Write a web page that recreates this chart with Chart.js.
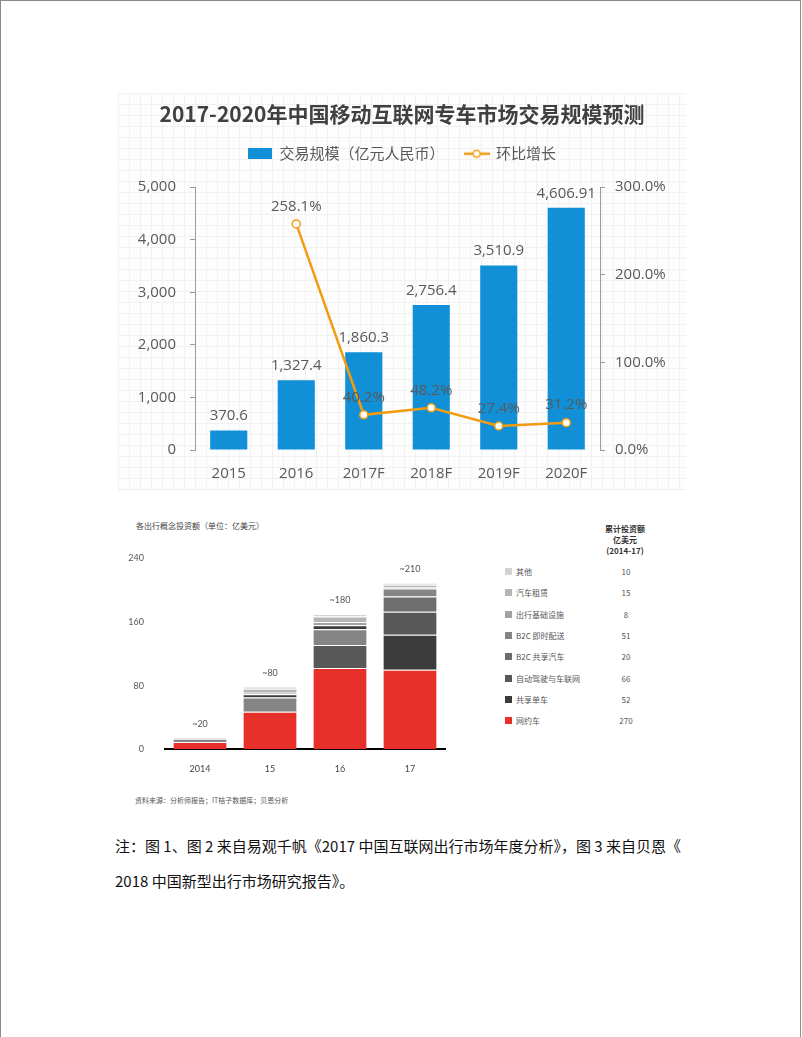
<!DOCTYPE html>
<html>
<head>
<meta charset="utf-8">
<script src="https://cdn.jsdelivr.net/npm/chart.js@4.4.0/dist/chart.umd.min.js"></script>
<style>
  html, body { margin: 0; padding: 0; background: #fff; }
  body { width: 802px; height: 1037px; position: relative; overflow: hidden; font-family: 'Noto Sans CJK SC', sans-serif; }
  .frame { position: absolute; left: 0; top: 0; width: 799px; height: 1036px; border: 1px solid #8a8a8a; border-bottom: none; }
  .panel1 { position: absolute; left: 118px; top: 93px; width: 568px; height: 398px;
    background-color: #fdfdfd;
    background-image: linear-gradient(#f1f1f1 1px, transparent 1px), linear-gradient(90deg, #f1f1f1 1px, transparent 1px);
    background-size: 11px 11px; }
  #c1 { position: absolute; left: 0; top: 0; }
  #c2 { position: absolute; left: 125px; top: 540px; }
  .t2 { position: absolute; left: 136px; top: 520px; font-size: 8px; color: #444; }
  .src { position: absolute; left: 135px; top: 795px; font-size: 7px; color: #555; }
  .leg { position: absolute; left: 500px; top: 521px; font-size: 8px; color: #555; }
  .leg .hd { position: absolute; left: 95px; top: 2px; width: 60px; text-align: center; font-weight: bold; color: #333; line-height: 11px; }
  .leg .row { position: absolute; left: 0; height: 12px; line-height: 12px; white-space: nowrap; }
  .leg .sq { position: absolute; left: 5px; top: 2px; width: 7px; height: 7px; }
  .leg .nm { position: absolute; left: 16px; top: 0; }
  .leg .vl { position: absolute; left: 106px; top: 0; width: 40px; text-align: center; }
  .note { position: absolute; left: 115px; top: 828px; font-size: 15px; color: #111; line-height: 35px; }
</style>
</head>
<body>
<div class="frame"></div>
<div class="panel1"><canvas id="c1" width="568" height="398"></canvas></div>

<div class="t2">各出行概念投资额（单位：亿美元）</div>
<canvas id="c2" width="330" height="240"></canvas>
<div class="src">资料来源：分析师报告；IT桔子数据库；贝恩分析</div>
<div class="leg" id="leg"></div>

<div class="note">注：图 1、图 2 来自易观千帆《2017 中国互联网出行市场年度分析》，图 3 来自贝恩《<br>2018 中国新型出行市场研究报告》。</div>

<script>
// chart 1 data
const years = ['2015', '2016', '2017F', '2018F', '2019F', '2020F'];
const marketSize = [370.6, 1327.4, 1860.3, 2756.4, 3510.9, 4606.91];
const growth = [null, 258.1, 40.2, 48.2, 27.4, 31.2];

// chart 2 data
const years2 = ['2014', '15', '16', '17'];
const rideHailing = [9, 47, 102, 100];
const bikeLow = [0, 0, 0, 44];
const autonomous = [0, 0, 29, 29];
const b2cCarShare = [0, 0, 0, 19];
const b2cDelivery = [4, 18, 20, 10];
const bikeHigh = [0, 4, 5, 0];
const infra = [0, 2, 4, 2];
const rental = [0, 5, 7, 3];
const others = [2, 3, 3, 2];
const totalLabels = ['~20', '~80', '~180', '~210'];

// legend table
const legendNames = ['其他', '汽车租赁', '出行基础设施', 'B2C 即时配送', 'B2C 共享汽车', '自动驾驶与车联网', '共享单车', '网约车'];
const legendTotals = [10, 15, 8, 51, 20, 66, 52, 270];
const legendColors = ['#d3d3d3', '#b5b5b5', '#a2a2a2', '#858585', '#6e6e6e', '#585858', '#3c3c3c', '#e8302a'];

const BLUE = '#1190d8';
const ORANGE = '#f39c12';
const TXT = '#595959';
const numFont = "'Open Sans', 'Noto Sans CJK SC', sans-serif";

// legend markers
const boxImg = document.createElement('canvas');
boxImg.width = 24; boxImg.height = 11;
let g = boxImg.getContext('2d');
g.fillStyle = BLUE; g.fillRect(0, 0, 24, 11);

const lineImg = document.createElement('canvas');
lineImg.width = 26; lineImg.height = 10;
g = lineImg.getContext('2d');
g.strokeStyle = ORANGE; g.lineWidth = 2.5;
g.beginPath(); g.moveTo(0, 5); g.lineTo(26, 5); g.stroke();
g.fillStyle = '#fff'; g.lineWidth = 1.5;
g.beginPath(); g.arc(13, 5, 3.5, 0, Math.PI * 2); g.fill(); g.stroke();

const valueLabels = {
  id: 'valueLabels',
  afterDatasetsDraw(chart) {
    const ctx = chart.ctx;
    ctx.save();
    ctx.font = '15px ' + numFont;
    ctx.fillStyle = TXT;
    ctx.textAlign = 'center';
    ctx.textBaseline = 'bottom';
    chart.getDatasetMeta(0).data.forEach((bar, i) => {
      ctx.fillText(marketSize[i].toLocaleString('en-US'), bar.x, bar.y - 7);
    });
    chart.getDatasetMeta(1).data.forEach((pt, i) => {
      if (growth[i] == null) return;
      ctx.fillText(growth[i].toFixed(1) + '%', pt.x, pt.y - 10);
    });
    ctx.restore();
  }
};

// extra room under the legend
const legendGap = {
  id: 'legendGap',
  beforeInit(chart) {
    const fit = chart.legend.fit;
    chart.legend.fit = function () {
      fit.call(this);
      this.height += 16;
    };
  }
};

new Chart(document.getElementById('c1'), {
  data: {
    labels: years,
    datasets: [{
      type: 'bar',
      label: '交易规模（亿元人民币）',
      data: marketSize,
      backgroundColor: BLUE,
      yAxisID: 'y',
      barPercentage: 0.55,
      categoryPercentage: 1,
      order: 2
    }, {
      type: 'line',
      label: '环比增长',
      data: growth,
      borderColor: ORANGE,
      borderWidth: 2.5,
      pointBackgroundColor: '#fff',
      pointBorderColor: ORANGE,
      pointBorderWidth: 1.5,
      pointRadius: 4,
      yAxisID: 'y1',
      order: 1
    }]
  },
  options: {
    responsive: false,
    animation: false,
    layout: { padding: { left: 0, right: 0, top: 0, bottom: -7 } },
    plugins: {
      title: {
        display: true,
        text: '2017-2020年中国移动互联网专车市场交易规模预测',
        color: '#404040',
        font: { size: 21, weight: 'bold', family: "'Noto Sans CJK SC', sans-serif" },
        padding: { top: 8, bottom: 0 }
      },
      legend: {
        labels: {
          usePointStyle: true,
          pointStyleWidth: 24,
          color: TXT,
          padding: 20,
          font: { size: 15, family: "'Noto Sans CJK SC', sans-serif" },
          sort: (a, b) => a.datasetIndex - b.datasetIndex,
          generateLabels(chart) {
            const items = Chart.defaults.plugins.legend.labels.generateLabels(chart);
            items.forEach(it => { it.pointStyle = it.datasetIndex === 0 ? boxImg : lineImg; });
            return items;
          }
        }
      },
      tooltip: { enabled: false }
    },
    scales: {
      x: {
        grid: { display: false, drawTicks: false },
        border: { display: false },
        ticks: { color: TXT, font: { size: 15, family: numFont }, padding: 15 }
      },
      y: {
        position: 'left',
        min: 0, max: 5000,
        ticks: { stepSize: 1000, color: TXT, font: { size: 15, family: numFont }, padding: 14 },
        grid: { drawOnChartArea: false, tickLength: 5, color: '#9a9a9a' },
        border: { color: '#9a9a9a' },
        afterFit(s) { s.width = 77; }
      },
      y1: {
        position: 'right',
        min: 0, max: 300,
        ticks: { stepSize: 100, color: TXT, font: { size: 15, family: numFont }, padding: 10,
          callback: v => v.toFixed(1) + '%' },
        grid: { drawOnChartArea: false, tickLength: 5, color: '#9a9a9a' },
        border: { color: '#9a9a9a' },
        afterFit(s) { s.width = 86; }
      }
    }
  },
  plugins: [valueLabels, legendGap]
});

// chart 2
const stackSets = [
  ['网约车', rideHailing, '#e8302a'],
  ['共享单车', bikeLow, '#3c3c3c'],
  ['自动驾驶与车联网', autonomous, '#585858'],
  ['B2C 共享汽车', b2cCarShare, '#6e6e6e'],
  ['B2C 即时配送', b2cDelivery, '#858585'],
  ['共享单车 ', bikeHigh, '#3c3c3c'],
  ['出行基础设施', infra, '#a2a2a2'],
  ['汽车租赁', rental, '#b5b5b5'],
  ['其他', others, '#d3d3d3']
];

const totalTops = {
  id: 'totalTops',
  afterDatasetsDraw(chart) {
    const ctx = chart.ctx;
    const yS = chart.scales.y;
    const xS = chart.scales.x;
    ctx.save();
    ctx.font = '9px Lato, sans-serif';
    ctx.fillStyle = '#555';
    ctx.textAlign = 'center';
    ctx.textBaseline = 'bottom';
    years2.forEach((yr, i) => {
      const sum = stackSets.reduce((a, s) => a + s[1][i], 0);
      ctx.fillText(totalLabels[i], xS.getPixelForValue(i), yS.getPixelForValue(sum) - 9);
    });
    ctx.restore();
  }
};

new Chart(document.getElementById('c2'), {
  type: 'bar',
  data: {
    labels: years2,
    datasets: stackSets.map(s => ({
      label: s[0],
      data: s[1],
      backgroundColor: s[2],
      borderColor: '#ffffff',
      borderWidth: { top: 1, left: 0, right: 0, bottom: 0 },
      borderSkipped: false,
      barPercentage: 0.76,
      categoryPercentage: 1
    }))
  },
  options: {
    responsive: false,
    animation: false,
    layout: { padding: { left: 0, right: 10, top: 7, bottom: 0 } },
    plugins: { legend: { display: false }, tooltip: { enabled: false } },
    scales: {
      x: {
        stacked: true,
        grid: { display: false },
        border: { color: '#000', width: 2 },
        ticks: { color: '#444', font: { size: 9, family: 'Lato, sans-serif' }, padding: 6 }
      },
      y: {
        stacked: true,
        min: 0, max: 240,
        ticks: { stepSize: 80, color: '#555', font: { size: 9, family: 'Lato, sans-serif' }, padding: 13 },
        grid: { display: false },
        border: { display: false },
        afterFit(s) { s.width = 40; }
      }
    }
  },
  plugins: [totalTops]
});

// legend table for chart 2
const leg = document.getElementById('leg');
leg.innerHTML = '<div class="hd">累计投资额<br>亿美元<br>(2014-17)</div>';
legendNames.forEach((n, i) => {
  const row = document.createElement('div');
  row.className = 'row';
  row.style.top = (45 + i * 21.3) + 'px';
  row.innerHTML = '<span class="sq" style="background:' + legendColors[i] + '"></span>' +
    '<span class="nm">' + n + '</span><span class="vl">' + legendTotals[i] + '</span>';
  leg.appendChild(row);
});
</script>
</body>
</html>
